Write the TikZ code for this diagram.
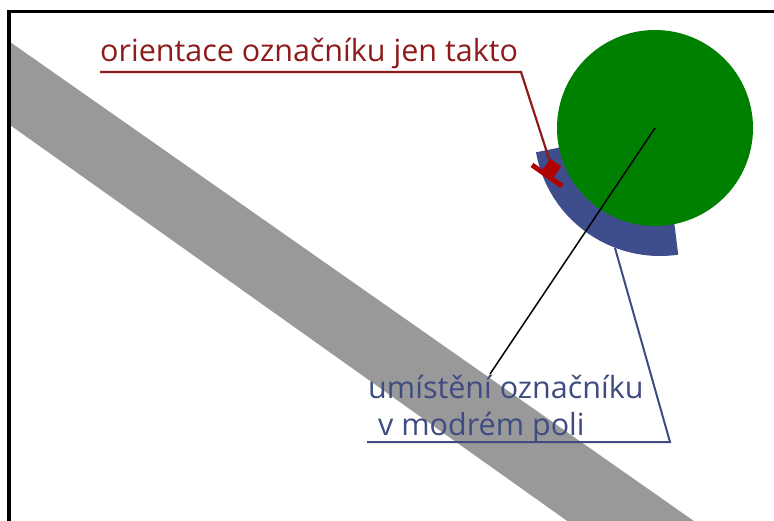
\documentclass[tikz,border=0pt]{standalone}
\usepackage{fontspec}
\setmainfont{Open Sans}
\definecolor{roadgray}{HTML}{999999}
\definecolor{treegreen}{HTML}{008000}
\definecolor{fieldblue}{HTML}{3E4E8C}
\definecolor{labelblue}{HTML}{3F4C82}
\definecolor{labelred}{HTML}{8E1B1B}
\definecolor{markred}{HTML}{B00000}
\tikzset{
  frameline/.style={line width=3.5pt, black},
  redlabel/.style={anchor=base west, inner sep=0pt, text=labelred, font=\fontsize{30.5}{36}\selectfont},
  bluelabel/.style={anchor=base west, inner sep=0pt, text=labelblue, font=\fontsize{30.5}{36}\selectfont},
  redlead/.style={draw=labelred, line width=2.2pt},
  bluelead/.style={draw=labelblue, line width=2pt},
  pointer/.style={draw=black, line width=1.5pt},
  markbar/.style={draw=markred, line width=5pt},
  marksq/.style={fill=markred, inner sep=0pt, minimum size=13pt, rotate=-35}
}
\begin{document}
\begin{tikzpicture}[x=1pt,y=-1pt]
\useasboundingbox (0,0) rectangle (774,521);
\clip (0,0) rectangle (774,521);
\fill[white] (0,0) rectangle (774,521);
% road strip
\fill[roadgray] (9,41.3) -- (721,540) -- (594,540) -- (9,124.3) -- cycle;
% frame
\draw[frameline] (9,540) -- (9,11.5) -- (790,11.5);
% blue field
\coordinate (c) at (655,128);
\coordinate (fc) at (660,130);
\draw[fieldblue, line width=34pt] ([shift={(81.5:109)}]fc) arc[start angle=81.5, end angle=170, radius=109];
% tree
\fill[treegreen] (c) circle[radius=98];
% labels
\node[redlabel] (lab1) at (100,62) {orientace označníku jen takto};
\node[bluelabel] (lab2) at (368,398) {umístění označníku};
\node[bluelabel] (lab3) at (378,435) {v modrém poli};
% marker
\coordinate (r1) at (100,72);
\coordinate (r2) at (521,72);
\coordinate (b1) at (532,165);
\coordinate (b2) at (562,186);
\node[marksq] (sq) at (552,168) {};
\draw[redlead] (r1) -- (r2) -- (sq.center);
\draw[markbar] (b1) -- (b2);
\node[marksq] at (sq.center) {};
% blue leader
\coordinate (u1) at (367,442);
\coordinate (u2) at (670,442);
\coordinate (u3) at (615,248);
\draw[bluelead] (u1) -- (u2) -- (u3);
% pointer
\coordinate (p) at (490,374);
\draw[pointer] (c) -- (p);
\end{tikzpicture}
\end{document}
